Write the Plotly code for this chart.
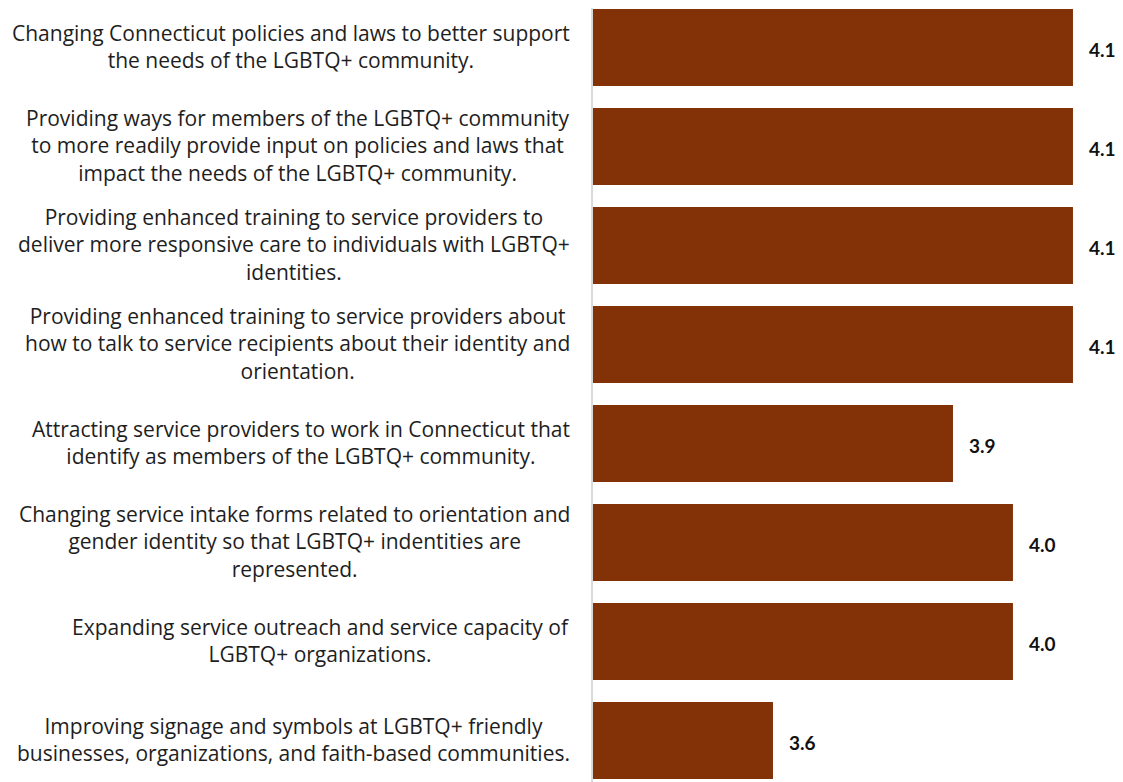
import plotly.graph_objects as go

categories = [
    "Changing Connecticut policies and laws to better support<br>the needs of the LGBTQ+ community.",
    "Providing ways for members of the LGBTQ+ community<br>to more readily provide input on policies and laws that<br>impact the needs of the LGBTQ+ community.",
    "Providing enhanced training to service providers to<br>deliver more responsive care to individuals with LGBTQ+<br>identities.",
    "Providing enhanced training to service providers about<br>how to talk to service recipients about their identity and<br>orientation.",
    "Attracting service providers to work in Connecticut that<br>identify as members of the LGBTQ+ community.",
    "Changing service intake forms related to orientation and<br>gender identity so that LGBTQ+ indentities are<br>represented.",
    "Expanding service outreach and service capacity of<br>LGBTQ+ organizations.",
    "Improving signage and symbols at LGBTQ+ friendly<br>businesses, organizations, and faith-based communities.",
]
values = [4.1, 4.1, 4.1, 4.1, 3.9, 4.0, 4.0, 3.6]
value_labels = ["4.1", "4.1", "4.1", "4.1", "3.9", "4.0", "4.0", "3.6"]

BAR_COLOR = "#833208"
LABEL_FONT = "Open Sans"
VALUE_FONT = "Lato"

fig = go.Figure(
    go.Bar(
        x=values,
        y=categories,
        orientation="h",
        marker=dict(color=BAR_COLOR, line=dict(width=0)),
        width=0.78,
        hoverinfo="skip",
    )
)

annotations = []
for cat, v, lab in zip(categories, values, value_labels):
    annotations.append(dict(
        x=v, y=cat, xref="x", yref="y", text=f"<b>{lab}</b>",
        showarrow=False, xanchor="left", yanchor="middle",
        xshift=14, yshift=-2,
        font=dict(family=VALUE_FONT, size=19, color="#111111"),
    ))
    annotations.append(dict(
        x=0, y=cat, xref="paper", yref="y", text=cat,
        showarrow=False, xanchor="right", yanchor="middle", align="center",
        xshift=-21, yshift=1,
        font=dict(family=LABEL_FONT, size=21, color="#1e1e1e"),
    ))

fig.update_layout(
    width=1123, height=782,
    margin=dict(l=585, r=0, t=0, b=0),
    paper_bgcolor="white", plot_bgcolor="white",
    showlegend=False,
    xaxis=dict(range=[3.3, 4.1967], showgrid=False, zeroline=False,
               showticklabels=False, showline=False, ticks=""),
    yaxis=dict(range=[7.5, -0.399], showgrid=False, zeroline=False,
               showticklabels=False, showline=True, linecolor="#d9d9d9",
               linewidth=2, ticks=""),
    annotations=annotations,
)

fig.write_html("out.html")
